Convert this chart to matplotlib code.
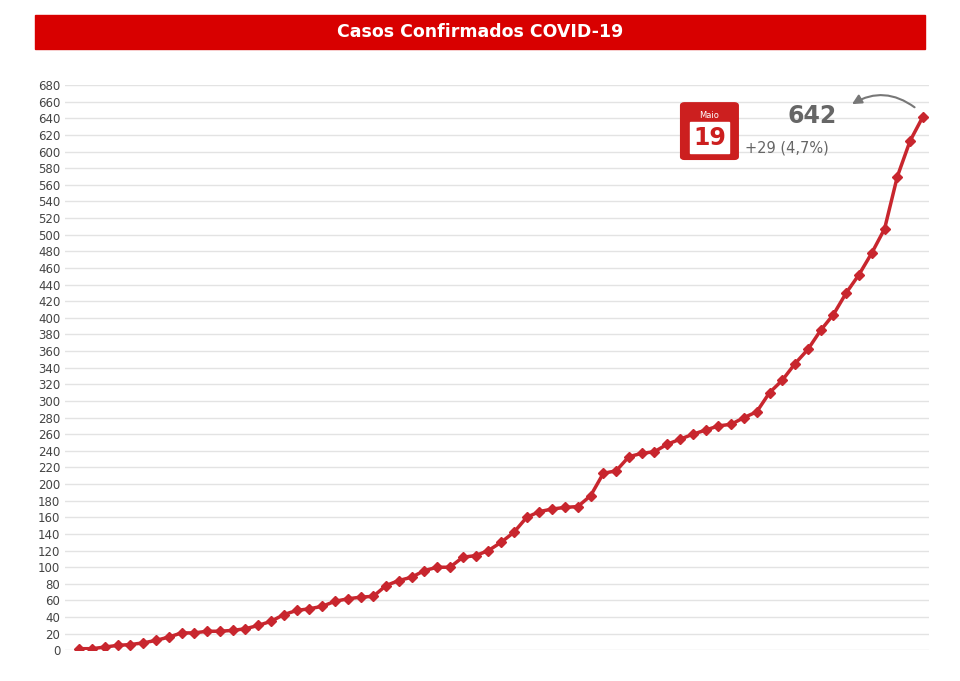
import matplotlib.pyplot as plt
from matplotlib.patches import FancyBboxPatch, FancyArrowPatch
import numpy as np

casos = [2, 2, 4, 6, 7, 9, 12, 16, 21, 21, 23, 23, 24, 26, 30, 35, 43, 48, 50, 53,
         59, 62, 64, 65, 78, 84, 88, 96, 100, 100, 112, 114, 120, 130, 142, 160, 167,
         170, 172, 173, 186, 213, 216, 233, 237, 239, 248, 254, 260, 265, 270, 272,
         280, 287, 310, 325, 345, 362, 385, 404, 430, 452, 478, 507, 570, 613, 642]
yticks = list(range(0, 681, 20))
red = '#c8262e'

fig = plt.figure(figsize=(9.6, 6.81), dpi=100)
ax = fig.add_axes([0.068, 0.045, 0.9, 0.83])
x = np.arange(len(casos))
ax.plot(x, casos, color=red, lw=2.5, marker='D', ms=5, zorder=3)
ax.set_ylim(0, 680)
ax.set_xlim(-1.1, len(casos) - 0.5)
ax.set_yticks(yticks)
ax.tick_params(axis='y', labelsize=8.5, colors='#444444', length=0)
ax.set_xticks([])
ax.grid(axis='y', color='#e3e3e3', lw=1)
for s in ax.spines.values():
    s.set_visible(False)

# title bar
fig.patches.append(plt.Rectangle((0.036, 0.928), 0.928, 0.05, transform=fig.transFigure,
                                 color='#d80000'))
fig.text(0.5, 0.953, 'Casos Confirmados COVID-19', color='white', fontsize=12.5,
         fontweight='bold', ha='center', va='center')

# calendar icon
cal = FancyBboxPatch((0.713, 0.77), 0.052, 0.075, boxstyle='round,pad=0.004',
                     transform=fig.transFigure, color='#cc1f1f')
fig.patches.append(cal)
fig.patches.append(plt.Rectangle((0.719, 0.776), 0.04, 0.045, transform=fig.transFigure,
                                 color='white'))
fig.text(0.739, 0.831, 'Maio', color='white', fontsize=6, ha='center', va='center')
fig.text(0.739, 0.798, '19', color='#cc1f1f', fontsize=17, fontweight='bold',
         ha='center', va='center')

fig.text(0.846, 0.83, '642', color='#666666', fontsize=17, fontweight='bold', ha='center', va='center')
fig.text(0.776, 0.783, '+29 (4,7%)', color='#666666', fontsize=10.5, ha='left', va='center')
arr = FancyArrowPatch((0.955, 0.84), (0.885, 0.845), transform=fig.transFigure,
                      connectionstyle='arc3,rad=0.35', arrowstyle='-|>', mutation_scale=14,
                      color='#777777', lw=1.5)
fig.patches.append(arr)

fig.savefig('out.png')
